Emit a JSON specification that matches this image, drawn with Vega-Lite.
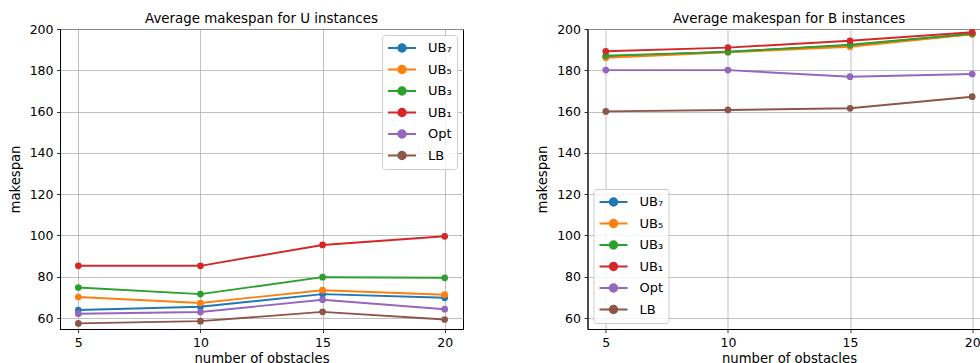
{
  "$schema": "https://vega.github.io/schema/vega-lite/v6.json",
  "background": "white",
  "padding": {"left": 7, "top": 11, "right": 0, "bottom": 0},
  "bounds": "flush",
  "spacing": 124.5,
  "datasets": {
    "all": [
      {"panel": "U", "series": "UB₇", "n": 5, "v": 63.9}, {"panel": "U", "series": "UB₇", "n": 10, "v": 65.5}, {"panel": "U", "series": "UB₇", "n": 15, "v": 71.6}, {"panel": "U", "series": "UB₇", "n": 20, "v": 69.8},
      {"panel": "U", "series": "UB₅", "n": 5, "v": 70.2}, {"panel": "U", "series": "UB₅", "n": 10, "v": 67.3}, {"panel": "U", "series": "UB₅", "n": 15, "v": 73.5}, {"panel": "U", "series": "UB₅", "n": 20, "v": 71.3},
      {"panel": "U", "series": "UB₃", "n": 5, "v": 74.8}, {"panel": "U", "series": "UB₃", "n": 10, "v": 71.6}, {"panel": "U", "series": "UB₃", "n": 15, "v": 79.8}, {"panel": "U", "series": "UB₃", "n": 20, "v": 79.5},
      {"panel": "U", "series": "UB₁", "n": 5, "v": 85.3}, {"panel": "U", "series": "UB₁", "n": 10, "v": 85.3}, {"panel": "U", "series": "UB₁", "n": 15, "v": 95.4}, {"panel": "U", "series": "UB₁", "n": 20, "v": 99.6},
      {"panel": "U", "series": "Opt", "n": 5, "v": 62.1}, {"panel": "U", "series": "Opt", "n": 10, "v": 62.9}, {"panel": "U", "series": "Opt", "n": 15, "v": 68.9}, {"panel": "U", "series": "Opt", "n": 20, "v": 64.3},
      {"panel": "U", "series": "LB", "n": 5, "v": 57.4}, {"panel": "U", "series": "LB", "n": 10, "v": 58.5}, {"panel": "U", "series": "LB", "n": 15, "v": 63.0}, {"panel": "U", "series": "LB", "n": 20, "v": 59.3},
      {"panel": "B", "series": "UB₇", "n": 5, "v": 186.6}, {"panel": "B", "series": "UB₇", "n": 10, "v": 189.0}, {"panel": "B", "series": "UB₇", "n": 15, "v": 192.0}, {"panel": "B", "series": "UB₇", "n": 20, "v": 197.6},
      {"panel": "B", "series": "UB₅", "n": 5, "v": 186.1}, {"panel": "B", "series": "UB₅", "n": 10, "v": 188.7}, {"panel": "B", "series": "UB₅", "n": 15, "v": 191.4}, {"panel": "B", "series": "UB₅", "n": 20, "v": 197.4},
      {"panel": "B", "series": "UB₃", "n": 5, "v": 187.1}, {"panel": "B", "series": "UB₃", "n": 10, "v": 188.9}, {"panel": "B", "series": "UB₃", "n": 15, "v": 192.4}, {"panel": "B", "series": "UB₃", "n": 20, "v": 197.7},
      {"panel": "B", "series": "UB₁", "n": 5, "v": 189.2}, {"panel": "B", "series": "UB₁", "n": 10, "v": 191.0}, {"panel": "B", "series": "UB₁", "n": 15, "v": 194.3}, {"panel": "B", "series": "UB₁", "n": 20, "v": 198.4},
      {"panel": "B", "series": "Opt", "n": 5, "v": 180.1}, {"panel": "B", "series": "Opt", "n": 10, "v": 180.1}, {"panel": "B", "series": "Opt", "n": 15, "v": 176.9}, {"panel": "B", "series": "Opt", "n": 20, "v": 178.2},
      {"panel": "B", "series": "LB", "n": 5, "v": 160.1}, {"panel": "B", "series": "LB", "n": 10, "v": 160.8}, {"panel": "B", "series": "LB", "n": 15, "v": 161.6}, {"panel": "B", "series": "LB", "n": 20, "v": 167.2}
    ]
  },
  "config": {
    "font": "DejaVu Sans",
    "view": {"stroke": "black", "strokeWidth": 1},
    "axis": {
      "labelFont": "DejaVu Sans", "labelFontSize": 12.5, "labelColor": "black",
      "titleFont": "DejaVu Sans", "titleFontSize": 13.2, "titleFontWeight": "normal", "titleColor": "black",
      "tickColor": "black", "tickSize": 3.5, "tickWidth": 0.8,
      "domainColor": "black", "domainWidth": 0.8,
      "grid": true, "gridColor": "#b0b0b0", "gridWidth": 0.8,
      "labelPadding": 3.5
    },
    "title": {"font": "DejaVu Sans", "fontSize": 13.4, "fontWeight": "normal", "color": "black", "offset": -2}
  },
  "resolve": {"scale": {"color": "independent", "x": "independent", "y": "independent"}, "legend": {"color": "independent"}},
  "hconcat": [
    {
      "width": 403, "height": 300,
      "title": "Average makespan for U instances",
      "data": {"name": "all"},
      "transform": [{"filter": "datum.panel === 'U'"}],
      "mark": {"type": "line", "strokeWidth": 1.9, "point": {"filled": true, "size": 45}},
      "encoding": {
        "x": {"field": "n", "type": "quantitative", "title": "number of obstacles", "scale": {"domain": [4.25, 20.75], "nice": false, "zero": false}, "axis": {"values": [5, 10, 15, 20], "titlePadding": 4}},
        "y": {"field": "v", "type": "quantitative", "title": "makespan", "scale": {"domain": [54.7, 200], "nice": false, "zero": false}, "axis": {"values": [60, 80, 100, 120, 140, 160, 180, 200], "titlePadding": 7}},
        "color": {"field": "series", "type": "nominal", "sort": null,
          "scale": {"domain": ["UB₇", "UB₅", "UB₃", "UB₁", "Opt", "LB"], "range": ["#1f77b4", "#ff7f0e", "#2ca02c", "#d62728", "#9467bd", "#8c564b"]},
          "legend": {"title": null, "orient": "top-right", "offset": 6,
            "symbolType": "M-2,0L2,0M-0.54,0A0.54,0.54,0,1,1,0.54,0A0.54,0.54,0,1,1,-0.54,0",
            "symbolSize": 196, "symbolStrokeWidth": 1.9, "symbolOffset": 7,
            "labelFont": "DejaVu Sans", "labelFontSize": 13, "labelColor": "black", "labelOffset": 18,
            "fillColor": "rgba(255,255,255,0.8)", "strokeColor": "#cccccc", "cornerRadius": 3, "padding": 5, "rowPadding": 5.5}
        }
      }
    },
    {
      "width": 403, "height": 300,
      "title": "Average makespan for B instances",
      "data": {"name": "all"},
      "transform": [{"filter": "datum.panel === 'B'"}],
      "mark": {"type": "line", "strokeWidth": 1.9, "point": {"filled": true, "size": 45}},
      "encoding": {
        "x": {"field": "n", "type": "quantitative", "title": "number of obstacles", "scale": {"domain": [4.25, 20.75], "nice": false, "zero": false}, "axis": {"values": [5, 10, 15, 20], "titlePadding": 4}},
        "y": {"field": "v", "type": "quantitative", "title": "makespan", "scale": {"domain": [54.7, 200], "nice": false, "zero": false}, "axis": {"values": [60, 80, 100, 120, 140, 160, 180, 200], "titlePadding": 7}},
        "color": {"field": "series", "type": "nominal", "sort": null,
          "scale": {"domain": ["UB₇", "UB₅", "UB₃", "UB₁", "Opt", "LB"], "range": ["#1f77b4", "#ff7f0e", "#2ca02c", "#d62728", "#9467bd", "#8c564b"]},
          "legend": {"title": null, "orient": "bottom-left", "offset": 6,
            "symbolType": "M-2,0L2,0M-0.54,0A0.54,0.54,0,1,1,0.54,0A0.54,0.54,0,1,1,-0.54,0",
            "symbolSize": 196, "symbolStrokeWidth": 1.9, "symbolOffset": 7,
            "labelFont": "DejaVu Sans", "labelFontSize": 13, "labelColor": "black", "labelOffset": 18,
            "fillColor": "rgba(255,255,255,0.8)", "strokeColor": "#cccccc", "cornerRadius": 3, "padding": 5, "rowPadding": 5.5}
        }
      }
    }
  ]
}
